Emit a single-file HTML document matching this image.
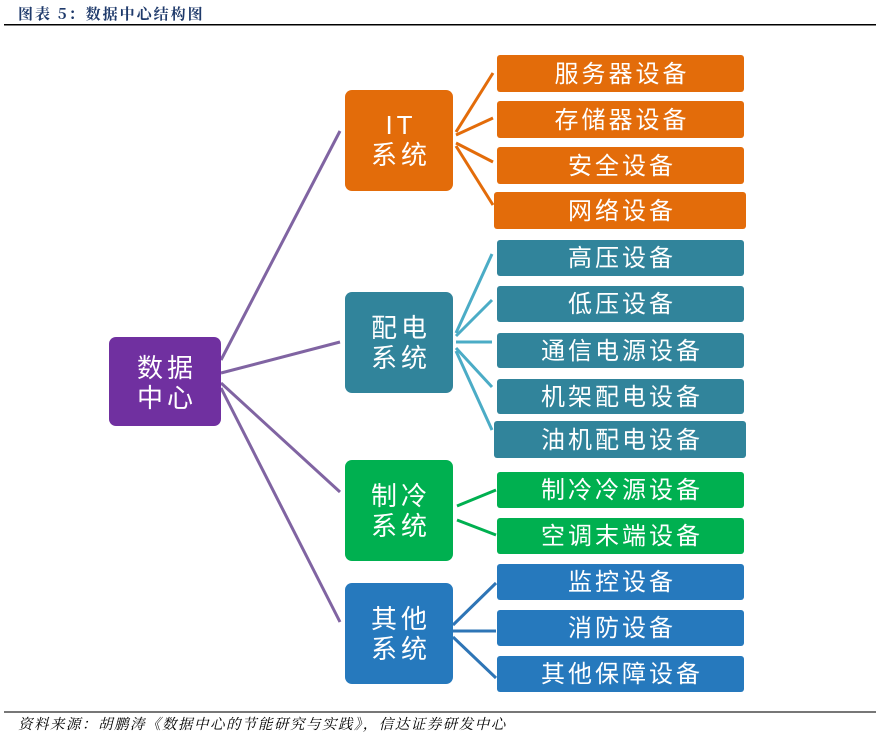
<!DOCTYPE html>
<html><head><meta charset="utf-8"><style>
html,body{margin:0;padding:0;background:#fff;}
body{width:880px;height:737px;overflow:hidden;}
svg text{font-family:"Liberation Sans","Noto Sans CJK SC",sans-serif;}
</style></head><body>
<svg width="880" height="737" viewBox="0 0 880 737" xmlns="http://www.w3.org/2000/svg">
<text x="18" y="19" font-size="15" font-weight="bold" fill="#1f3a6b" letter-spacing="2" style="font-family:'Noto Serif CJK SC','Liberation Serif',serif">图表 5：数据中心结构图</text>
<rect x="4" y="24" width="872" height="1.5" fill="#000"/>
<rect x="4" y="711" width="872" height="2" fill="#777"/>
<text x="18" y="729" font-size="14.5" font-style="italic" fill="#000" letter-spacing="1.5" style="font-family:'Noto Serif CJK SC','Liberation Serif',serif">资料来源：胡鹏涛《数据中心的节能研究与实践》，信达证券研发中心</text>

<g stroke="#8064a2" stroke-width="3" fill="none">
<line x1="221" y1="360" x2="340" y2="131"/>
<line x1="221" y1="373" x2="340" y2="342"/>
<line x1="221" y1="383" x2="340" y2="492"/>
<line x1="221" y1="388" x2="340" y2="622"/>
</g>
<g stroke="#e36c0a" stroke-width="3">
<line x1="456" y1="132" x2="493" y2="73"/>
<line x1="456" y1="135" x2="493" y2="118"/>
<line x1="456" y1="143" x2="493" y2="162"/>
<line x1="456" y1="146" x2="493" y2="205"/>
</g>
<g stroke="#4bacc6" stroke-width="3">
<line x1="456" y1="333" x2="492" y2="254"/>
<line x1="456" y1="336" x2="492" y2="300"/>
<line x1="456" y1="342" x2="492" y2="342"/>
<line x1="456" y1="348" x2="492" y2="387"/>
<line x1="456" y1="351" x2="492" y2="430"/>
</g>
<g stroke="#00b050" stroke-width="3">
<line x1="457" y1="506" x2="496" y2="490"/>
<line x1="457" y1="520" x2="496" y2="535"/>
</g>
<g stroke="#2e75b6" stroke-width="3">
<line x1="453" y1="625" x2="496" y2="583"/>
<line x1="453" y1="631" x2="496" y2="631"/>
<line x1="453" y1="637" x2="496" y2="678"/>
</g>

<rect x="109" y="337" width="112" height="89" rx="7" fill="#7030a0"/>
<text fill="#fff" font-size="26" letter-spacing="4" text-anchor="middle"><tspan x="167" y="377">数据</tspan><tspan x="167" y="407">中心</tspan></text>

<g fill="#fff" font-size="26" letter-spacing="4" text-anchor="middle">
<rect x="345" y="90" width="108" height="101" rx="7" fill="#e36c0a"/>
<text><tspan x="401" y="134">IT</tspan><tspan x="401" y="164">系统</tspan></text>
<rect x="345" y="292" width="108" height="101" rx="7" fill="#31849b"/>
<text><tspan x="401" y="337">配电</tspan><tspan x="401" y="367">系统</tspan></text>
<rect x="345" y="460" width="108" height="101" rx="7" fill="#00b050"/>
<text><tspan x="401" y="505">制冷</tspan><tspan x="401" y="535">系统</tspan></text>
<rect x="345" y="583" width="108" height="101" rx="7" fill="#2679bd"/>
<text><tspan x="401" y="628">其他</tspan><tspan x="401" y="658">系统</tspan></text>
</g>

<g font-size="24" letter-spacing="3" fill="#fff" text-anchor="middle">
<rect x="497" y="55" width="247" height="37" rx="3" fill="#e36c0a"/><text x="622" y="82">服务器设备</text>
<rect x="497" y="101" width="247" height="37" rx="3" fill="#e36c0a"/><text x="622" y="128">存储器设备</text>
<rect x="497" y="147" width="247" height="37" rx="3" fill="#e36c0a"/><text x="622" y="174">安全设备</text>
<rect x="494" y="192" width="252" height="37" rx="3" fill="#e36c0a"/><text x="622" y="219">网络设备</text>

<rect x="497" y="240" width="247" height="36" rx="3" fill="#31849b"/><text x="622" y="266">高压设备</text>
<rect x="497" y="286" width="247" height="36" rx="3" fill="#31849b"/><text x="622" y="312">低压设备</text>
<rect x="497" y="333" width="247" height="35" rx="3" fill="#31849b"/><text x="622" y="359">通信电源设备</text>
<rect x="497" y="379" width="247" height="35" rx="3" fill="#31849b"/><text x="622" y="405">机架配电设备</text>
<rect x="494" y="421" width="252" height="37" rx="3" fill="#31849b"/><text x="622" y="448">油机配电设备</text>

<rect x="497" y="472" width="247" height="36" rx="3" fill="#00b050"/><text x="622" y="498">制冷冷源设备</text>
<rect x="497" y="518" width="247" height="36" rx="3" fill="#00b050"/><text x="622" y="544">空调末端设备</text>

<rect x="497" y="564" width="247" height="36" rx="3" fill="#2679bd"/><text x="622" y="590">监控设备</text>
<rect x="497" y="610" width="247" height="36" rx="3" fill="#2679bd"/><text x="622" y="636">消防设备</text>
<rect x="497" y="656" width="247" height="36" rx="3" fill="#2679bd"/><text x="622" y="682">其他保障设备</text>
</g>
</svg>
</body></html>
